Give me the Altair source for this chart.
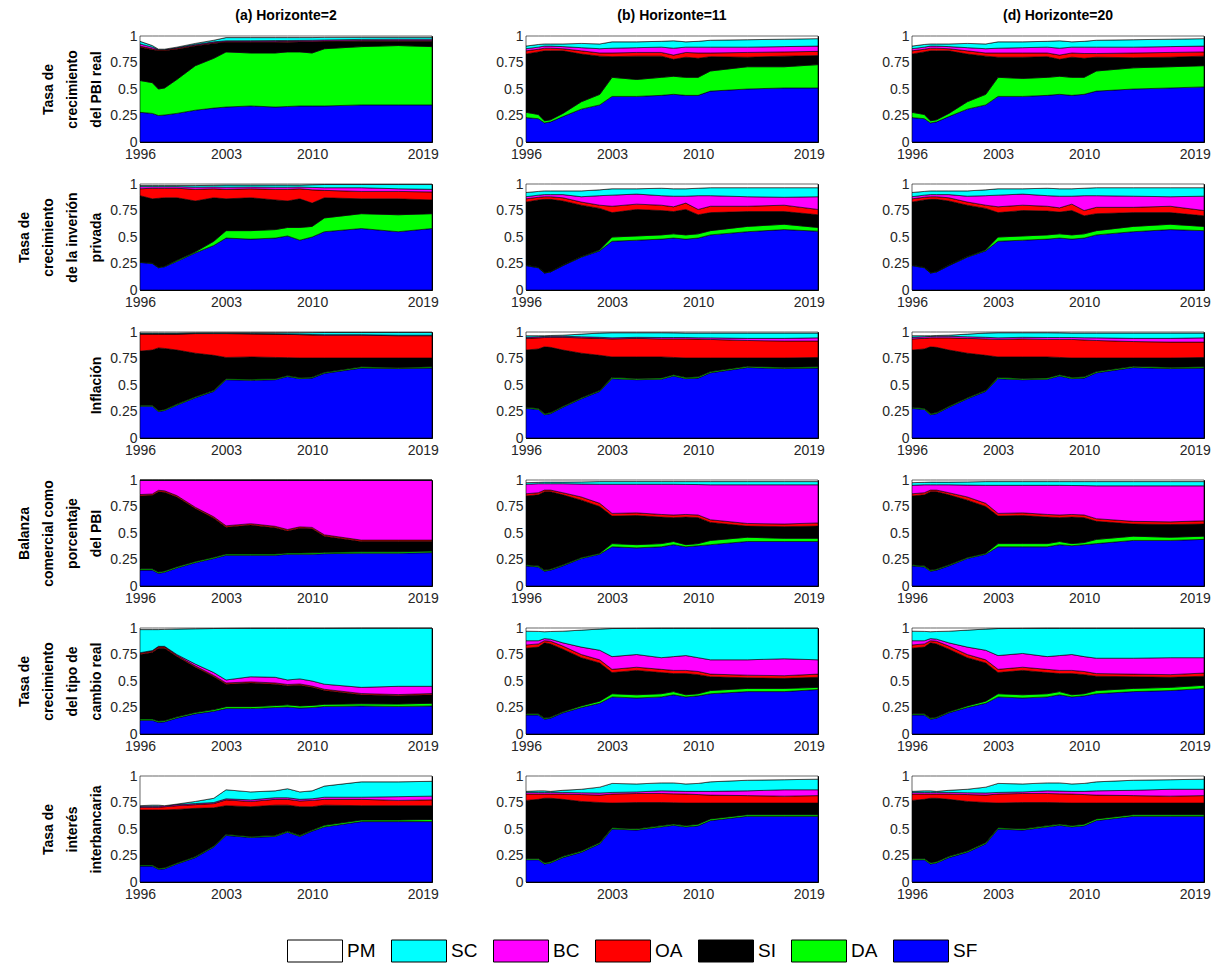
import altair as alt
import pandas as pd

# time knots (years) shared by every panel
T = [1996, 1997, 1997.5, 1998, 1999, 2000.5, 2002, 2003, 2005, 2007, 2008, 2009, 2010, 2011, 2014, 2017, 2019.75]

# stacking order, bottom to top; PM always reaches 1
SERIES = ["SF", "DA", "SI", "OA", "BC", "SC", "PM"]
LEGEND_ORDER = ["PM", "SC", "BC", "OA", "SI", "DA", "SF"]
COLORS = ["#ffffff", "#00ffff", "#ff00ff", "#ff0000", "#000000", "#00ff00", "#0000ff"]

COL_TITLES = ["(a) Horizonte=2", "(b) Horizonte=11", "(d) Horizonte=20"]
ROW_TITLES = [
    ["Tasa de", "crecimiento", "del PBI real"],
    ["Tasa de", "crecimiento", "de la inverión", "privada"],
    ["Inflación"],
    ["Balanza", "comercial como", "porcentaje", "del PBI"],
    ["Tasa de", "crecimiento", "del tipo de", "cambio real"],
    ["Tasa de", "interés", "interbancaria"],
]
YEAR_TICKS = [1996, 2003, 2010, 2019]

# upper edge (cumulative share) of each layer, at the knots in T
PBI_H2 = {
    "SF": [0.28, 0.27, 0.25, 0.255, 0.27, 0.30, 0.32, 0.33, 0.34, 0.33, 0.335, 0.34, 0.34, 0.34, 0.35, 0.35, 0.35],
    "DA": [0.58, 0.56, 0.50, 0.51, 0.59, 0.72, 0.79, 0.85, 0.84, 0.84, 0.85, 0.85, 0.84, 0.88, 0.90, 0.91, 0.90],
    "SI": [0.895, 0.87, 0.86, 0.86, 0.875, 0.905, 0.93, 0.94, 0.94, 0.94, 0.942, 0.943, 0.944, 0.947, 0.95, 0.95, 0.95],
    "OA": [0.905, 0.88, 0.868, 0.868, 0.885, 0.913, 0.937, 0.947, 0.947, 0.947, 0.95, 0.95, 0.951, 0.954, 0.957, 0.958, 0.958],
    "BC": [0.925, 0.895, 0.872, 0.872, 0.89, 0.92, 0.945, 0.955, 0.956, 0.957, 0.958, 0.959, 0.96, 0.963, 0.968, 0.97, 0.97],
    "SC": [0.95, 0.91, 0.876, 0.876, 0.895, 0.93, 0.96, 0.985, 0.985, 0.985, 0.985, 0.985, 0.985, 0.987, 0.988, 0.988, 0.988],
}
INV_H2 = {
    "SF": [0.26, 0.25, 0.21, 0.22, 0.27, 0.35, 0.42, 0.49, 0.48, 0.49, 0.51, 0.47, 0.50, 0.55, 0.58, 0.55, 0.58],
    "DA": [0.265, 0.255, 0.215, 0.225, 0.28, 0.36, 0.46, 0.56, 0.56, 0.57, 0.59, 0.59, 0.60, 0.68, 0.72, 0.71, 0.72],
    "SI": [0.89, 0.86, 0.865, 0.87, 0.87, 0.84, 0.87, 0.86, 0.87, 0.85, 0.84, 0.86, 0.82, 0.87, 0.86, 0.86, 0.85],
    "OA": [0.955, 0.96, 0.96, 0.96, 0.96, 0.95, 0.955, 0.95, 0.955, 0.95, 0.95, 0.955, 0.945, 0.94, 0.93, 0.93, 0.925],
    "BC": [0.975, 0.975, 0.975, 0.975, 0.975, 0.97, 0.972, 0.97, 0.972, 0.97, 0.97, 0.972, 0.968, 0.965, 0.965, 0.955, 0.95],
    "SC": [0.985, 0.985, 0.985, 0.985, 0.985, 0.985, 0.988, 0.99, 0.99, 0.99, 0.99, 0.99, 0.993, 0.995, 0.995, 0.995, 0.995],
}
INF_H2 = {
    "SF": [0.30, 0.30, 0.25, 0.26, 0.31, 0.38, 0.44, 0.55, 0.545, 0.55, 0.58, 0.56, 0.565, 0.61, 0.66, 0.655, 0.66],
    "DA": [0.31, 0.31, 0.26, 0.27, 0.32, 0.39, 0.45, 0.56, 0.555, 0.56, 0.59, 0.57, 0.575, 0.62, 0.672, 0.665, 0.672],
    "SI": [0.82, 0.83, 0.85, 0.845, 0.83, 0.80, 0.78, 0.76, 0.765, 0.76, 0.758, 0.755, 0.755, 0.755, 0.755, 0.755, 0.755],
    "OA": [0.98, 0.98, 0.98, 0.98, 0.98, 0.985, 0.985, 0.985, 0.982, 0.98, 0.978, 0.975, 0.972, 0.97, 0.97, 0.965, 0.965],
    "BC": [0.983, 0.983, 0.983, 0.983, 0.983, 0.987, 0.987, 0.987, 0.985, 0.983, 0.981, 0.979, 0.976, 0.975, 0.975, 0.97, 0.97],
    "SC": [0.99, 0.99, 0.99, 0.99, 0.99, 0.992, 0.993, 0.993, 0.993, 0.993, 0.993, 0.993, 0.994, 0.995, 0.995, 0.995, 0.995],
}
BAL_H2 = {
    "SF": [0.15, 0.15, 0.12, 0.13, 0.17, 0.22, 0.26, 0.29, 0.29, 0.29, 0.30, 0.30, 0.30, 0.305, 0.31, 0.31, 0.315],
    "DA": [0.162, 0.162, 0.132, 0.142, 0.182, 0.232, 0.272, 0.302, 0.302, 0.302, 0.312, 0.312, 0.313, 0.318, 0.323, 0.323, 0.33],
    "SI": [0.85, 0.855, 0.89, 0.885, 0.84, 0.73, 0.64, 0.555, 0.575, 0.55, 0.52, 0.545, 0.54, 0.47, 0.42, 0.42, 0.42],
    "OA": [0.863, 0.868, 0.903, 0.898, 0.853, 0.743, 0.653, 0.568, 0.588, 0.563, 0.533, 0.558, 0.553, 0.483, 0.433, 0.433, 0.433],
    "BC": [0.997, 0.997, 0.997, 0.997, 0.997, 0.997, 0.997, 0.997, 0.997, 0.997, 0.997, 0.997, 0.997, 0.997, 0.997, 0.997, 0.997],
    "SC": [0.999, 0.999, 0.999, 0.999, 0.999, 0.999, 0.999, 0.999, 0.999, 0.999, 0.999, 0.999, 0.999, 0.999, 0.999, 0.999, 0.999],
}
TCR_H2 = {
    "SF": [0.13, 0.13, 0.11, 0.115, 0.15, 0.19, 0.215, 0.24, 0.24, 0.25, 0.255, 0.245, 0.25, 0.26, 0.265, 0.26, 0.265],
    "DA": [0.142, 0.142, 0.122, 0.127, 0.162, 0.203, 0.23, 0.258, 0.258, 0.268, 0.275, 0.265, 0.27, 0.28, 0.285, 0.283, 0.29],
    "SI": [0.75, 0.77, 0.81, 0.81, 0.73, 0.63, 0.54, 0.47, 0.48, 0.47, 0.455, 0.46, 0.44, 0.41, 0.37, 0.36, 0.37],
    "OA": [0.762, 0.782, 0.822, 0.822, 0.742, 0.642, 0.552, 0.482, 0.492, 0.482, 0.467, 0.472, 0.452, 0.422, 0.382, 0.372, 0.382],
    "BC": [0.767, 0.787, 0.827, 0.827, 0.75, 0.66, 0.58, 0.51, 0.54, 0.535, 0.51, 0.52, 0.50, 0.47, 0.44, 0.45, 0.45],
    "SC": [0.985, 0.985, 0.985, 0.987, 0.99, 0.993, 0.995, 0.996, 0.997, 0.997, 0.997, 0.997, 0.997, 0.997, 0.998, 0.998, 0.998],
}
INT_H2 = {
    "SF": [0.15, 0.15, 0.12, 0.125, 0.17, 0.23, 0.33, 0.44, 0.42, 0.43, 0.47, 0.43, 0.48, 0.52, 0.57, 0.57, 0.57],
    "DA": [0.16, 0.16, 0.13, 0.135, 0.18, 0.24, 0.34, 0.45, 0.43, 0.44, 0.48, 0.44, 0.49, 0.535, 0.585, 0.585, 0.59],
    "SI": [0.68, 0.68, 0.68, 0.68, 0.685, 0.695, 0.70, 0.72, 0.71, 0.725, 0.725, 0.71, 0.71, 0.725, 0.72, 0.72, 0.72],
    "OA": [0.705, 0.705, 0.705, 0.71, 0.72, 0.73, 0.74, 0.775, 0.76, 0.78, 0.78, 0.765, 0.77, 0.78, 0.78, 0.77, 0.775],
    "BC": [0.715, 0.715, 0.715, 0.72, 0.73, 0.74, 0.75, 0.785, 0.775, 0.795, 0.795, 0.78, 0.785, 0.80, 0.80, 0.805, 0.81],
    "SC": [0.72, 0.725, 0.725, 0.72, 0.735, 0.76, 0.79, 0.87, 0.85, 0.86, 0.88, 0.85, 0.86, 0.905, 0.945, 0.945, 0.95],
}

PBI_H11 = {
    "SF": [0.23, 0.22, 0.18, 0.19, 0.24, 0.31, 0.35, 0.43, 0.43, 0.44, 0.45, 0.44, 0.44, 0.48, 0.50, 0.51, 0.51],
    "DA": [0.28, 0.26, 0.20, 0.21, 0.27, 0.38, 0.45, 0.61, 0.59, 0.61, 0.62, 0.61, 0.61, 0.67, 0.71, 0.71, 0.73],
    "SI": [0.83, 0.85, 0.86, 0.86, 0.86, 0.83, 0.81, 0.805, 0.81, 0.81, 0.78, 0.80, 0.79, 0.805, 0.80, 0.81, 0.815],
    "OA": [0.86, 0.875, 0.885, 0.885, 0.88, 0.86, 0.84, 0.84, 0.845, 0.845, 0.82, 0.845, 0.84, 0.84, 0.845, 0.85, 0.855],
    "BC": [0.88, 0.895, 0.905, 0.905, 0.90, 0.89, 0.88, 0.885, 0.89, 0.895, 0.885, 0.895, 0.895, 0.895, 0.895, 0.90, 0.905],
    "SC": [0.905, 0.92, 0.925, 0.925, 0.925, 0.93, 0.925, 0.945, 0.945, 0.95, 0.955, 0.945, 0.95, 0.96, 0.965, 0.97, 0.975],
}
INV_H11 = {
    "SF": [0.23, 0.21, 0.16, 0.17, 0.23, 0.31, 0.37, 0.46, 0.47, 0.48, 0.49, 0.48, 0.49, 0.52, 0.55, 0.57, 0.555],
    "DA": [0.235, 0.215, 0.165, 0.175, 0.235, 0.315, 0.38, 0.50, 0.51, 0.52, 0.53, 0.52, 0.53, 0.56, 0.60, 0.62, 0.59],
    "SI": [0.83, 0.85, 0.855, 0.855, 0.84, 0.80, 0.77, 0.73, 0.76, 0.75, 0.74, 0.76, 0.71, 0.73, 0.74, 0.74, 0.71],
    "OA": [0.86, 0.875, 0.88, 0.88, 0.87, 0.83, 0.80, 0.79, 0.81, 0.80, 0.785, 0.82, 0.76, 0.79, 0.79, 0.80, 0.76],
    "BC": [0.88, 0.895, 0.90, 0.90, 0.90, 0.88, 0.89, 0.895, 0.905, 0.89, 0.885, 0.885, 0.89, 0.89, 0.88, 0.875, 0.88],
    "SC": [0.92, 0.93, 0.935, 0.935, 0.935, 0.935, 0.945, 0.955, 0.955, 0.96, 0.955, 0.955, 0.96, 0.965, 0.965, 0.965, 0.965],
}
INF_H11 = {
    "SF": [0.28, 0.27, 0.22, 0.23, 0.29, 0.37, 0.44, 0.56, 0.55, 0.555, 0.585, 0.56, 0.565, 0.615, 0.665, 0.655, 0.66],
    "DA": [0.29, 0.28, 0.23, 0.24, 0.30, 0.38, 0.45, 0.572, 0.562, 0.567, 0.597, 0.572, 0.577, 0.627, 0.677, 0.667, 0.672],
    "SI": [0.83, 0.84, 0.86, 0.855, 0.83, 0.80, 0.78, 0.765, 0.765, 0.765, 0.76, 0.755, 0.755, 0.755, 0.755, 0.755, 0.76],
    "OA": [0.94, 0.945, 0.948, 0.95, 0.95, 0.945, 0.94, 0.935, 0.94, 0.935, 0.935, 0.935, 0.933, 0.93, 0.92, 0.915, 0.915],
    "BC": [0.95, 0.955, 0.958, 0.96, 0.96, 0.955, 0.95, 0.945, 0.95, 0.948, 0.948, 0.948, 0.946, 0.945, 0.94, 0.94, 0.945],
    "SC": [0.965, 0.965, 0.965, 0.967, 0.97, 0.98, 0.99, 0.993, 0.993, 0.993, 0.992, 0.99, 0.99, 0.99, 0.99, 0.99, 0.99],
}
BAL_H11 = {
    "SF": [0.19, 0.18, 0.14, 0.15, 0.19, 0.26, 0.30, 0.37, 0.36, 0.37, 0.39, 0.37, 0.38, 0.39, 0.42, 0.42, 0.42],
    "DA": [0.20, 0.19, 0.15, 0.16, 0.20, 0.27, 0.31, 0.40, 0.39, 0.40, 0.42, 0.39, 0.40, 0.43, 0.46, 0.45, 0.45],
    "SI": [0.85, 0.86, 0.89, 0.89, 0.86, 0.81, 0.75, 0.66, 0.665, 0.65, 0.645, 0.65, 0.645, 0.60, 0.565, 0.56, 0.565],
    "OA": [0.87, 0.88, 0.905, 0.905, 0.88, 0.84, 0.78, 0.685, 0.69, 0.675, 0.67, 0.675, 0.67, 0.625, 0.59, 0.585, 0.595],
    "BC": [0.96, 0.965, 0.965, 0.965, 0.965, 0.962, 0.96, 0.96, 0.96, 0.96, 0.96, 0.958, 0.957, 0.955, 0.955, 0.955, 0.955],
    "SC": [0.975, 0.978, 0.98, 0.98, 0.98, 0.982, 0.985, 0.985, 0.985, 0.985, 0.985, 0.985, 0.985, 0.985, 0.985, 0.985, 0.985],
}
TCR_H11 = {
    "SF": [0.18, 0.18, 0.14, 0.15, 0.20, 0.25, 0.29, 0.35, 0.34, 0.35, 0.37, 0.35, 0.36, 0.38, 0.40, 0.40, 0.42],
    "DA": [0.19, 0.19, 0.15, 0.16, 0.21, 0.265, 0.31, 0.38, 0.37, 0.38, 0.40, 0.37, 0.38, 0.41, 0.43, 0.43, 0.44],
    "SI": [0.81, 0.82, 0.86, 0.85, 0.80, 0.72, 0.67, 0.58, 0.60, 0.58, 0.57, 0.57, 0.56, 0.54, 0.53, 0.525, 0.535],
    "OA": [0.84, 0.85, 0.88, 0.875, 0.83, 0.75, 0.70, 0.61, 0.63, 0.61, 0.60, 0.60, 0.59, 0.565, 0.555, 0.55, 0.565],
    "BC": [0.88, 0.88, 0.90, 0.895, 0.86, 0.82, 0.79, 0.73, 0.75, 0.72, 0.73, 0.74, 0.72, 0.70, 0.70, 0.71, 0.70],
    "SC": [0.97, 0.968, 0.965, 0.967, 0.97, 0.98, 0.99, 0.995, 0.996, 0.997, 0.997, 0.997, 0.997, 0.997, 0.997, 0.997, 0.997],
}
INT_H11 = {
    "SF": [0.21, 0.21, 0.17, 0.18, 0.23, 0.28, 0.36, 0.50, 0.49, 0.52, 0.535, 0.52, 0.53, 0.58, 0.62, 0.62, 0.62],
    "DA": [0.222, 0.222, 0.182, 0.192, 0.242, 0.292, 0.372, 0.512, 0.502, 0.532, 0.547, 0.532, 0.545, 0.595, 0.635, 0.635, 0.635],
    "SI": [0.77, 0.78, 0.79, 0.79, 0.78, 0.76, 0.75, 0.745, 0.75, 0.75, 0.748, 0.745, 0.745, 0.745, 0.745, 0.745, 0.745],
    "OA": [0.83, 0.83, 0.83, 0.83, 0.83, 0.825, 0.82, 0.83, 0.835, 0.835, 0.832, 0.83, 0.825, 0.82, 0.815, 0.81, 0.815],
    "BC": [0.845, 0.845, 0.845, 0.845, 0.845, 0.842, 0.84, 0.845, 0.85, 0.86, 0.858, 0.855, 0.855, 0.855, 0.86, 0.87, 0.87],
    "SC": [0.855, 0.86, 0.86, 0.855, 0.865, 0.875, 0.895, 0.93, 0.925, 0.935, 0.935, 0.925, 0.93, 0.945, 0.96, 0.965, 0.97],
}

PBI_H20 = {
    "SF": [0.23, 0.22, 0.18, 0.19, 0.24, 0.31, 0.35, 0.43, 0.43, 0.44, 0.45, 0.44, 0.45, 0.48, 0.50, 0.51, 0.52],
    "DA": [0.28, 0.26, 0.20, 0.21, 0.27, 0.38, 0.45, 0.61, 0.60, 0.61, 0.62, 0.61, 0.61, 0.67, 0.70, 0.71, 0.72],
    "SI": [0.83, 0.85, 0.86, 0.86, 0.86, 0.83, 0.81, 0.80, 0.80, 0.805, 0.78, 0.80, 0.79, 0.80, 0.795, 0.80, 0.81],
    "OA": [0.86, 0.875, 0.885, 0.885, 0.88, 0.86, 0.84, 0.84, 0.84, 0.84, 0.82, 0.84, 0.835, 0.835, 0.84, 0.845, 0.85],
    "BC": [0.88, 0.895, 0.905, 0.905, 0.90, 0.89, 0.88, 0.885, 0.89, 0.895, 0.885, 0.895, 0.895, 0.895, 0.895, 0.90, 0.905],
    "SC": [0.905, 0.92, 0.925, 0.925, 0.925, 0.93, 0.925, 0.945, 0.945, 0.95, 0.955, 0.945, 0.95, 0.96, 0.965, 0.97, 0.975],
}
INV_H20 = {
    "SF": [0.23, 0.21, 0.16, 0.17, 0.23, 0.31, 0.37, 0.46, 0.47, 0.48, 0.49, 0.48, 0.49, 0.52, 0.55, 0.57, 0.56],
    "DA": [0.235, 0.215, 0.165, 0.175, 0.235, 0.315, 0.38, 0.50, 0.51, 0.52, 0.53, 0.52, 0.53, 0.56, 0.60, 0.62, 0.60],
    "SI": [0.83, 0.85, 0.855, 0.855, 0.84, 0.80, 0.77, 0.73, 0.75, 0.745, 0.735, 0.75, 0.70, 0.72, 0.73, 0.73, 0.70],
    "OA": [0.86, 0.875, 0.88, 0.88, 0.87, 0.83, 0.80, 0.785, 0.80, 0.79, 0.775, 0.81, 0.75, 0.78, 0.78, 0.79, 0.75],
    "BC": [0.88, 0.895, 0.90, 0.90, 0.90, 0.885, 0.89, 0.895, 0.905, 0.89, 0.885, 0.885, 0.89, 0.89, 0.885, 0.88, 0.885],
    "SC": [0.92, 0.93, 0.935, 0.935, 0.935, 0.935, 0.945, 0.955, 0.955, 0.96, 0.955, 0.955, 0.96, 0.965, 0.965, 0.965, 0.965],
}
INF_H20 = {
    "SF": [0.28, 0.27, 0.22, 0.23, 0.29, 0.37, 0.44, 0.56, 0.55, 0.555, 0.585, 0.56, 0.565, 0.615, 0.665, 0.655, 0.66],
    "DA": [0.29, 0.28, 0.23, 0.24, 0.30, 0.38, 0.45, 0.572, 0.562, 0.567, 0.597, 0.572, 0.577, 0.627, 0.677, 0.667, 0.672],
    "SI": [0.83, 0.84, 0.86, 0.855, 0.83, 0.80, 0.78, 0.765, 0.765, 0.765, 0.76, 0.755, 0.755, 0.755, 0.755, 0.755, 0.76],
    "OA": [0.935, 0.94, 0.945, 0.945, 0.945, 0.94, 0.935, 0.93, 0.935, 0.93, 0.93, 0.93, 0.925, 0.92, 0.91, 0.905, 0.905],
    "BC": [0.95, 0.955, 0.958, 0.96, 0.96, 0.955, 0.95, 0.945, 0.95, 0.948, 0.948, 0.948, 0.946, 0.945, 0.94, 0.94, 0.945],
    "SC": [0.965, 0.965, 0.965, 0.967, 0.97, 0.98, 0.99, 0.993, 0.993, 0.993, 0.992, 0.99, 0.99, 0.99, 0.99, 0.99, 0.99],
}
BAL_H20 = {
    "SF": [0.19, 0.18, 0.14, 0.15, 0.19, 0.26, 0.30, 0.37, 0.37, 0.37, 0.39, 0.38, 0.39, 0.40, 0.43, 0.43, 0.44],
    "DA": [0.20, 0.19, 0.15, 0.16, 0.20, 0.27, 0.31, 0.40, 0.40, 0.40, 0.42, 0.40, 0.41, 0.44, 0.47, 0.46, 0.47],
    "SI": [0.85, 0.86, 0.89, 0.89, 0.86, 0.81, 0.75, 0.66, 0.665, 0.65, 0.645, 0.65, 0.645, 0.61, 0.585, 0.58, 0.585],
    "OA": [0.87, 0.88, 0.905, 0.905, 0.88, 0.84, 0.78, 0.685, 0.69, 0.675, 0.67, 0.675, 0.67, 0.635, 0.61, 0.605, 0.615],
    "BC": [0.95, 0.955, 0.955, 0.955, 0.955, 0.952, 0.95, 0.95, 0.95, 0.95, 0.95, 0.948, 0.947, 0.945, 0.945, 0.945, 0.945],
    "SC": [0.975, 0.978, 0.98, 0.98, 0.98, 0.982, 0.985, 0.985, 0.985, 0.985, 0.985, 0.985, 0.985, 0.985, 0.985, 0.985, 0.985],
}
TCR_H20 = {
    "SF": [0.18, 0.18, 0.14, 0.15, 0.20, 0.25, 0.29, 0.35, 0.34, 0.35, 0.37, 0.35, 0.36, 0.38, 0.40, 0.41, 0.43],
    "DA": [0.19, 0.19, 0.15, 0.16, 0.21, 0.265, 0.31, 0.38, 0.37, 0.38, 0.40, 0.37, 0.38, 0.41, 0.43, 0.44, 0.46],
    "SI": [0.81, 0.82, 0.86, 0.85, 0.80, 0.72, 0.67, 0.58, 0.60, 0.58, 0.57, 0.57, 0.56, 0.545, 0.54, 0.535, 0.545],
    "OA": [0.84, 0.85, 0.88, 0.875, 0.83, 0.75, 0.70, 0.61, 0.63, 0.61, 0.60, 0.60, 0.59, 0.57, 0.565, 0.56, 0.575],
    "BC": [0.88, 0.88, 0.90, 0.895, 0.86, 0.82, 0.79, 0.74, 0.76, 0.73, 0.74, 0.75, 0.73, 0.715, 0.715, 0.72, 0.72],
    "SC": [0.97, 0.968, 0.965, 0.967, 0.97, 0.98, 0.99, 0.995, 0.996, 0.997, 0.997, 0.997, 0.997, 0.997, 0.997, 0.997, 0.997],
}
INT_H20 = {
    "SF": [0.21, 0.21, 0.17, 0.18, 0.23, 0.28, 0.36, 0.50, 0.49, 0.52, 0.535, 0.52, 0.53, 0.58, 0.62, 0.62, 0.62],
    "DA": [0.222, 0.222, 0.182, 0.192, 0.242, 0.292, 0.372, 0.512, 0.502, 0.532, 0.547, 0.532, 0.545, 0.595, 0.635, 0.635, 0.635],
    "SI": [0.77, 0.78, 0.79, 0.79, 0.78, 0.76, 0.75, 0.745, 0.75, 0.75, 0.748, 0.745, 0.745, 0.745, 0.745, 0.745, 0.745],
    "OA": [0.83, 0.83, 0.83, 0.83, 0.83, 0.825, 0.82, 0.83, 0.835, 0.835, 0.832, 0.83, 0.825, 0.82, 0.815, 0.81, 0.815],
    "BC": [0.845, 0.845, 0.845, 0.845, 0.845, 0.842, 0.84, 0.845, 0.85, 0.86, 0.858, 0.855, 0.855, 0.86, 0.865, 0.875, 0.875],
    "SC": [0.855, 0.86, 0.86, 0.855, 0.865, 0.875, 0.895, 0.93, 0.925, 0.935, 0.935, 0.925, 0.93, 0.945, 0.96, 0.965, 0.97],
}

PANELS = [
    [PBI_H2, PBI_H11, PBI_H20],
    [INV_H2, INV_H11, INV_H20],
    [INF_H2, INF_H11, INF_H20],
    [BAL_H2, BAL_H11, BAL_H20],
    [TCR_H2, TCR_H11, TCR_H20],
    [INT_H2, INT_H11, INT_H20],
]

FONT = "Liberation Sans"
W, H = 292, 106


def layers(cum):
    rows = []
    prev = [0.0] * len(T)
    for s in SERIES:
        top = cum[s] if s in cum else [1.0] * len(T)
        for t, lo, hi in zip(T, prev, top):
            rows.append({"t": t, "serie": s, "lo": lo, "hi": hi})
        prev = top
    return pd.DataFrame(rows)


def panel(cum, r, c):
    xticks = YEAR_TICKS if not (r == 5 and c == 1) else YEAR_TICKS[1:]
    yaxis = alt.Axis(
        values=[0, 0.25, 0.5, 0.75, 1], labelExpr="'' + datum.value",
        title=ROW_TITLES[r] if c == 0 else None,
        titleFont=FONT, titleFontSize=14, titleFontWeight="bold", titleColor="black",
        titleLineHeight=24, titlePadding=6,
    )
    ch = alt.Chart(layers(cum)).mark_area(
        stroke="black", strokeWidth=0.6, opacity=1, interpolate="linear"
    ).encode(
        x=alt.X("t:Q", scale=alt.Scale(domain=[1996, 2019.75], nice=False, zero=False),
                axis=alt.Axis(values=xticks, format="d", title=None, labelPadding=5)),
        y=alt.Y("lo:Q", scale=alt.Scale(domain=[0, 1], nice=False), axis=yaxis),
        y2="hi:Q",
        color=alt.Color(
            "serie:N",
            scale=alt.Scale(domain=LEGEND_ORDER, range=COLORS),
            legend=alt.Legend(
                title=None, orient="none", legendX=147, legendY=887,
                direction="horizontal", columns=7,
                symbolType="M-1,-0.4L1,-0.4L1,0.4L-1,0.4Z", symbolSize=3025,
                symbolStrokeColor="black", symbolStrokeWidth=1, symbolOpacity=1,
                labelFont=FONT, labelFontSize=19, labelColor="black",
                labelOffset=4, columnPadding=13,
            ),
        ),
    ).properties(width=W, height=H)
    if r == 0:
        ch = ch.properties(title=alt.TitleParams(
            COL_TITLES[c], font=FONT, fontSize=14, fontWeight="bold",
            color="black", anchor="middle", offset=6))
    return ch


charts = [panel(PANELS[r][c], r, c) for r in range(6) for c in range(3)]

chart = alt.concat(*charts, columns=3, spacing={"row": 42, "column": 94}, bounds="flush").configure_axis(
    labelFont=FONT, labelFontSize=14, labelColor="#262626",
    domainColor="black", ticks=False, grid=False,
    labelPadding=3, labelFlush=False, labelOverlap=False,
).configure_view(stroke="black", strokeWidth=1).properties(
    padding={"left": 17, "top": 8, "right": 5, "bottom": 5}
)

chart.save("out.html", embed_options={"renderer": "svg", "actions": False})
